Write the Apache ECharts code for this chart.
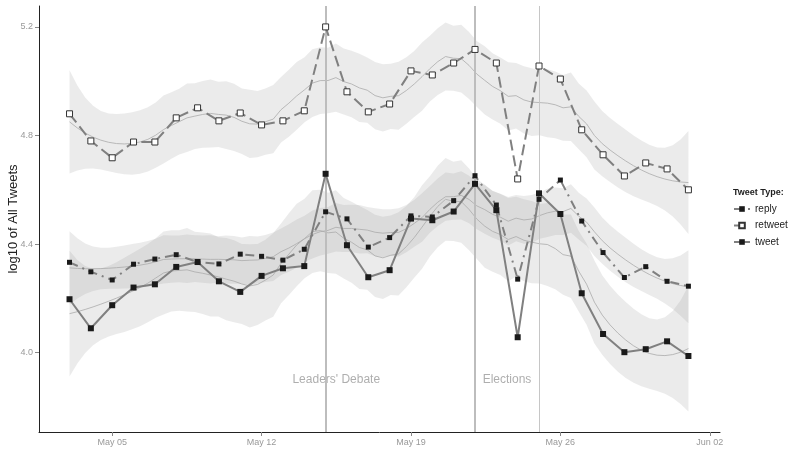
<!DOCTYPE html>
<html>
<head>
<meta charset="utf-8">
<script src="https://cdn.jsdelivr.net/npm/echarts@6/dist/echarts.min.js"></script>
<style>
  html, body { margin: 0; padding: 0; background: #fff; }
  #chart { width: 788px; height: 449px; }
</style>
</head>
<body>
<div id="chart"></div>
<script>
// Day numbers counted from 1 May (so 1 June = 32)
const days = [3,4,5,6,7,8,9,10,11,12,13,14,15,16,17,18,19,20,21,22,23,24,25,26,27,28,29,30,31,32];

// log10 of daily tweet counts per tweet type
const replyVals = [4.333,4.298,4.268,4.326,4.345,4.361,4.334,4.327,4.363,4.355,4.341,4.381,4.519,4.493,4.389,4.424,4.504,4.500,4.560,4.652,4.544,4.271,4.565,4.636,4.485,4.369,4.277,4.317,4.263,4.245];
const retweetVals = [4.880,4.780,4.718,4.776,4.776,4.865,4.902,4.854,4.883,4.839,4.854,4.891,5.200,4.961,4.887,4.916,5.038,5.023,5.067,5.117,5.067,4.640,5.056,5.008,4.821,4.729,4.651,4.699,4.677,4.600];
const tweetVals = [4.197,4.090,4.175,4.240,4.252,4.316,4.334,4.263,4.224,4.283,4.311,4.319,4.659,4.396,4.278,4.304,4.494,4.488,4.520,4.622,4.525,4.057,4.587,4.511,4.219,4.069,4.002,4.013,4.042,3.988];

const seriesNames = ['reply', 'retweet', 'tweet'];

// Axis ticks
const xTickDays = [5, 12, 19, 26, 33];
const xTickLabels = ['May 05', 'May 12', 'May 19', 'May 26', 'Jun 02'];
const yTicks = [4.0, 4.4, 4.8, 5.2];

// Event markers and their captions
const eventDays = [15, 22, 25];
const noteDays = [15.5, 23.5];
const noteLevels = [3.9, 3.9];
const noteTexts = ["Leaders' Debate", 'Elections'];

// Smoother span
const loessSpan = 0.35;

// ---- loess (local quadratic, tricube weights) with 95% band ----
function localWeights(xs, x0, q) {
  const d = xs.map(x => Math.abs(x - x0));
  const sorted = d.slice().sort((a, b) => a - b);
  const h = sorted[q - 1];
  const w = d.map(di => { const u = di / h; return u < 1 ? Math.pow(1 - u * u * u, 3) : 0; });
  const S = [[0,0,0],[0,0,0],[0,0,0]];
  xs.forEach((x, i) => {
    const dx = x - x0, b = [1, dx, dx * dx];
    for (let a = 0; a < 3; a++) for (let c = 0; c < 3; c++) S[a][c] += w[i] * b[a] * b[c];
  });
  const inv = invert3(S);
  return xs.map((x, i) => {
    const dx = x - x0;
    return w[i] * (inv[0][0] + inv[0][1] * dx + inv[0][2] * dx * dx);
  });
}
function invert3(m) {
  const [a,b,c] = m[0], [d,e,f] = m[1], [g,h,i] = m[2];
  const A = e*i - f*h, B = -(d*i - f*g), C = d*h - e*g;
  const det = a*A + b*B + c*C;
  return [
    [A/det, -(b*i - c*h)/det, (b*f - c*e)/det],
    [B/det, (a*i - c*g)/det, -(a*f - c*d)/det],
    [C/det, -(a*h - b*g)/det, (a*e - b*d)/det]
  ];
}
function qt975(df) {
  const z = 1.959963985;
  const z3 = z*z*z, z5 = z3*z*z, z7 = z5*z*z;
  return z + (z3 + z)/(4*df) + (5*z5 + 16*z3 + 3*z)/(96*df*df)
           + (3*z7 + 19*z5 + 17*z3 - 15*z)/(384*df*df*df);
}
function loess(xs, ys, span, nOut) {
  const n = xs.length, q = Math.floor(n * span);
  const L = xs.map(x0 => localWeights(xs, x0, q));
  const fitted = L.map(row => row.reduce((s, l, j) => s + l * ys[j], 0));
  const resid = ys.map((y, i) => y - fitted[i]);
  const R = L.map((row, i) => row.map((l, j) => (i === j ? 1 : 0) - l));
  const M = [];
  for (let i = 0; i < n; i++) {
    M.push([]);
    for (let j = 0; j < n; j++) {
      let s = 0;
      for (let k = 0; k < n; k++) s += R[k][i] * R[k][j];
      M[i].push(s);
    }
  }
  let d1 = 0, d2 = 0;
  for (let i = 0; i < n; i++) { d1 += M[i][i]; for (let j = 0; j < n; j++) d2 += M[i][j] * M[i][j]; }
  const s = Math.sqrt(resid.reduce((a, r) => a + r * r, 0) / d1);
  const t = qt975(d1 * d1 / d2);
  const lo = Math.min(...xs), hi = Math.max(...xs);
  const out = { x: [], fit: [], lower: [], upper: [] };
  for (let k = 0; k < nOut; k++) {
    const x0 = lo + (hi - lo) * k / (nOut - 1);
    const l = localWeights(xs, x0, q);
    const f = l.reduce((a, v, j) => a + v * ys[j], 0);
    const se = s * Math.sqrt(l.reduce((a, v) => a + v * v, 0));
    out.x.push(x0); out.fit.push(f);
    out.lower.push(f - t * se); out.upper.push(f + t * se);
  }
  return out;
}

const valuesByType = { reply: replyVals, retweet: retweetVals, tweet: tweetVals };
const smooths = {};
seriesNames.forEach(nm => { smooths[nm] = loess(days, valuesByType[nm], loessSpan, 80); });

const lineColor = '#808080';
const markStyles = {
  reply:   { symbolSize: 5, dash: [9, 5, 2, 5], itemStyle: { color: '#1a1a1a' } },
  retweet: { symbolSize: 6, dash: [11, 5],      itemStyle: { color: '#ffffff', borderColor: '#333', borderWidth: 1 } },
  tweet:   { symbolSize: 6, dash: 'solid',      itemStyle: { color: '#1a1a1a' } }
};

const series = [];

// confidence bands
seriesNames.forEach(nm => {
  const sm = smooths[nm];
  series.push({
    type: 'custom',
    silent: true,
    z: 1,
    data: [[sm.x[0], sm.fit[0]]],
    renderItem: (params, api) => {
      const pts = [];
      for (let i = 0; i < sm.x.length; i++) pts.push(api.coord([sm.x[i], sm.upper[i]]));
      for (let i = sm.x.length - 1; i >= 0; i--) pts.push(api.coord([sm.x[i], sm.lower[i]]));
      return { type: 'polygon', shape: { points: pts }, style: { fill: 'rgba(153,153,153,0.2)' } };
    }
  });
});

// smooth fit lines
seriesNames.forEach(nm => {
  const sm = smooths[nm];
  series.push({
    type: 'line',
    silent: true,
    z: 2,
    showSymbol: false,
    data: sm.x.map((x, i) => [x, sm.fit[i]]),
    lineStyle: { color: '#ababab', width: 0.8 }
  });
});

// event lines
series.push({
  type: 'line',
  data: [],
  z: 3,
  markLine: {
    silent: true,
    symbol: 'none',
    label: { show: false },
    data: eventDays.map((d, i) => ({
      xAxis: d,
      lineStyle: { color: i < 2 ? '#bdbdbd' : '#c6c6c6', width: i < 2 ? 2 : 1, type: 'solid' }
    }))
  }
});

// event captions
series.push({
  type: 'scatter',
  silent: true,
  z: 3,
  symbolSize: 0,
  data: noteDays.map((d, i) => ({ value: [d, noteLevels[i]], name: noteTexts[i] })),
  label: {
    show: true, position: 'inside', formatter: p => p.name,
    color: '#9a9a9a', fontSize: 12, fontFamily: 'Liberation Sans, Arial, sans-serif'
  }
});

// observed series
seriesNames.forEach(nm => {
  const st = markStyles[nm];
  series.push({
    name: nm,
    type: 'line',
    z: 5,
    symbol: 'rect',
    symbolSize: st.symbolSize,
    showAllSymbol: true,
    data: days.map((d, i) => [d, valuesByType[nm][i]]),
    lineStyle: { color: lineColor, width: 2, type: st.dash },
    itemStyle: st.itemStyle
  });
});

const chart = echarts.init(document.getElementById('chart'), null, { renderer: 'canvas' });
const font = 'Liberation Sans, Arial, sans-serif';
chart.setOption({
  animation: false,
  backgroundColor: '#ffffff',
  textStyle: { fontFamily: font },
  grid: { left: 39, right: 68, top: 6, bottom: 17, containLabel: false, outerBoundsMode: 'none' },
  title: {
    text: 'Tweet Type:', left: 733, top: 188, padding: 0,
    textStyle: { fontSize: 9, fontWeight: 'bold', color: '#222', fontFamily: font }
  },
  legend: {
    data: seriesNames,
    orient: 'vertical',
    left: 733, top: 204, padding: 0,
    itemWidth: 16, itemHeight: 7, itemGap: 6.5,
    textStyle: { fontSize: 10, color: '#222', fontFamily: font }
  },
  xAxis: {
    type: 'value',
    min: 1.57, max: 33.48,
    splitLine: { show: false },
    axisLine: { show: true, onZero: false, lineStyle: { color: '#222', width: 1 } },
    axisTick: { show: true, customValues: xTickDays, length: 4, lineStyle: { color: '#888' } },
    axisLabel: {
      customValues: xTickDays, color: '#999', fontSize: 9, margin: 6,
      formatter: v => xTickLabels[xTickDays.indexOf(v)]
    }
  },
  yAxis: {
    type: 'value',
    min: 3.708, max: 5.277,
    name: 'log10 of All Tweets',
    nameLocation: 'middle', nameGap: 19, nameRotate: 90, nameMoveOverlap: false,
    nameTextStyle: { fontSize: 13, color: '#222', fontFamily: font },
    splitLine: { show: false },
    axisLine: { show: true, lineStyle: { color: '#222', width: 1 } },
    axisTick: { show: true, customValues: yTicks, length: 4, lineStyle: { color: '#888' } },
    axisLabel: {
      customValues: yTicks, color: '#999', fontSize: 9, margin: 6,
      formatter: v => v.toFixed(1)
    }
  },
  series: series
});
</script>
</body>
</html>
